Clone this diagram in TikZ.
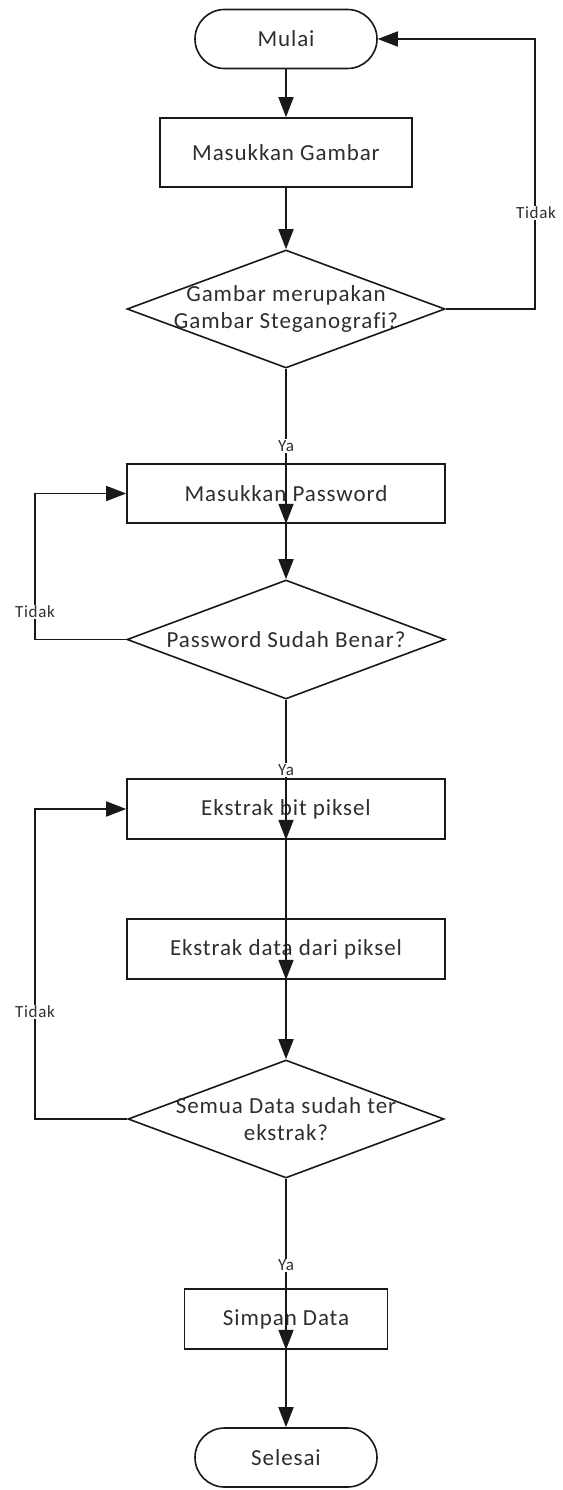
\documentclass[tikz,border=0pt]{standalone}
\usepackage{fontspec}
\setmainfont{Carlito}[LetterSpace=4,Ligatures=NoCommon]
\usetikzlibrary{shapes.geometric,shapes.misc,arrows.meta}
\begin{document}
\begin{tikzpicture}[x=1pt,y=-1pt,
  every node/.style={font=\fontsize{23}{27}\selectfont, text=black!82},
  line/.style={line width=1.7pt, draw=black!90},
  arr/.style={line, -{Triangle[length=20pt,width=15pt]}},
  term/.style={rounded rectangle, draw=black!90, line width=1.6pt, minimum width=182pt, minimum height=59pt, inner sep=0pt},
  proc/.style={rectangle, draw=black!90, line width=1.6pt, minimum height=60pt, inner sep=0pt},
  dec/.style={diamond, draw=black!90, line width=1.6pt, inner sep=0pt},
  lab/.style={font=\fontsize{17}{20}\selectfont, fill=white, inner sep=1pt}
]
\useasboundingbox (0,0) rectangle (562,1490);
\node[term] (mulai) at (286,39) {Mulai};
\node[proc, minimum width=252pt, minimum height=69pt] (g1) at (286,152.5) {Masukkan Gambar};
\node[dec, minimum width=318pt, minimum height=118pt, label={[align=center]center:Gambar merupakan\\Gambar Steganografi?}] (d1) at (286,309) {};
\node[proc, minimum width=318pt, minimum height=59pt] (pw) at (286,493.5) {Masukkan Password};
\node[dec, minimum width=318pt, minimum height=119pt, label={[align=center]center:Password Sudah Benar?}] (d2) at (286,639.5) {};
\node[proc, minimum width=318pt] (eb) at (286,809) {Ekstrak bit piksel};
\node[proc, minimum width=318pt] (ed) at (286,949) {Ekstrak data dari piksel};
\node[dec, minimum width=316pt, minimum height=118pt, label={[align=center]center:Semua Data sudah ter\\ekstrak?}] (d3) at (286,1119) {};
\node[proc, minimum width=203pt] (sd) at (286,1319) {Simpan Data};
\node[term] (sel) at (286,1457.5) {Selesai};

\coordinate (t1a) at (535,309);
\coordinate (t1b) at (535,39);
\coordinate (t2a) at (35,639.5);
\coordinate (t2b) at (35,493.5);
\coordinate (t3a) at (35,1119);
\coordinate (t3b) at (35,809);

\draw[arr] (mulai.south) -- (g1.north);
\draw[arr] (g1.south) -- (d1.north);
\draw[arr] (d1.east) -- (t1a) -- (t1b) -- (mulai.east);
\draw[arr] (d1.south) -- (pw.south);
\draw[arr] (pw.south) -- (d2.north);
\draw[arr] (d2.west) -- (t2a) -- (t2b) -- (pw.west);
\draw[arr] (d2.south) -- (eb.south);
\draw[arr] (eb.south) -- (ed.south);
\draw[arr] (ed.south) -- (d3.north);
\draw[arr] (d3.west) -- (t3a) -- (t3b) -- (eb.west);
\draw[arr] (d3.south) -- (sd.south);
\draw[arr] (sd.south) -- (sel.north);

\node[lab] (l1) at (536,213) {Tidak};
\node[lab] (l2) at (286,446) {Ya};
\node[lab] (l3) at (35,612) {Tidak};
\node[lab] (l4) at (286,770) {Ya};
\node[lab] (l5) at (35,1012) {Tidak};
\node[lab] (l6) at (286,1265) {Ya};
\end{tikzpicture}
\end{document}
